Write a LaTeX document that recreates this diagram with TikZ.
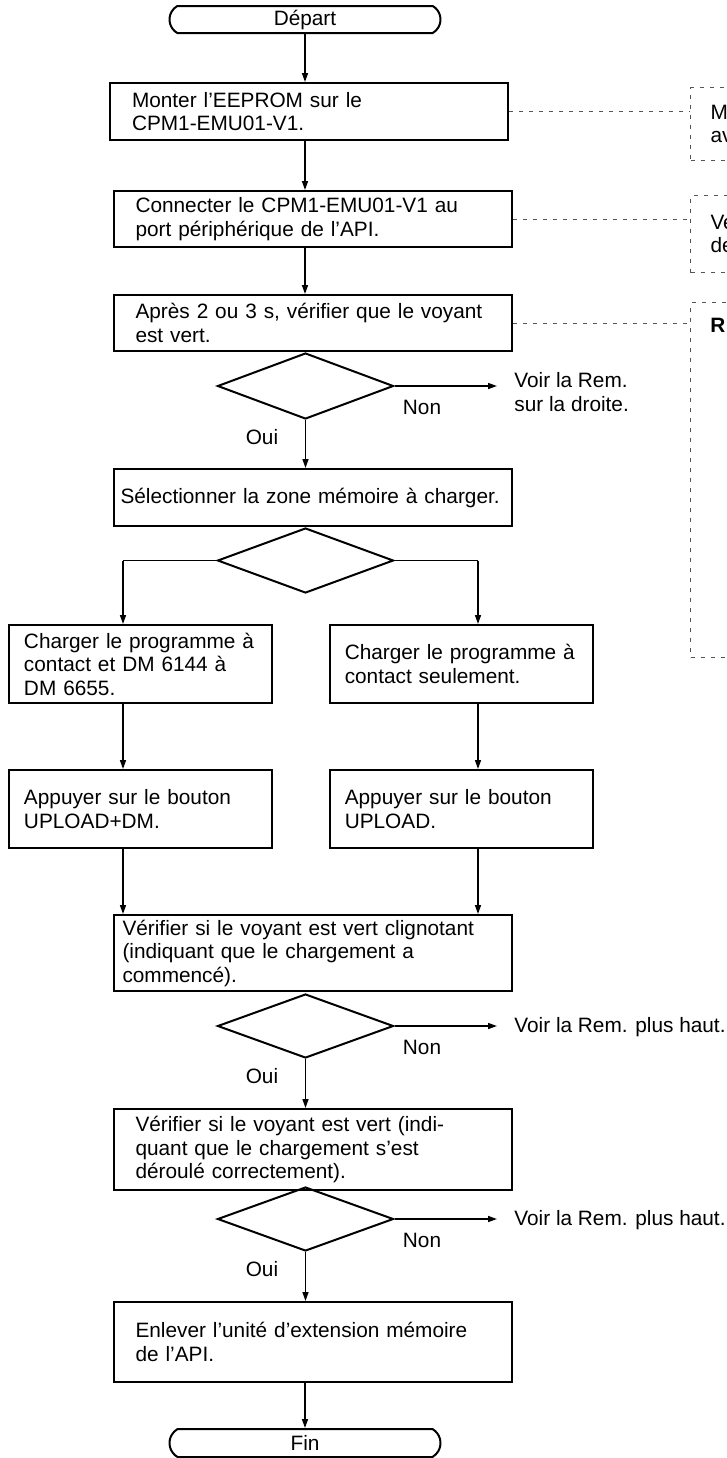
\documentclass[tikz,border=0pt]{standalone}
\usepackage{fontspec}
\setmainfont{Liberation Sans}
\usepackage{tikz}
\usetikzlibrary{shapes.geometric, shapes.misc, arrows.meta, positioning, calc}
\definecolor{cDash}{RGB}{85,85,85}
\tikzset{
	endpoint/.style={rounded rectangle, rounded rectangle arc length=120, draw=black, line width=1pt, minimum width=135.5pt, minimum height=13.5pt, inner sep=0pt},
	stepbox/.style ={rectangle, draw=black, line width=1pt, align=left, inner xsep=11pt, inner ysep=0pt, text width=177pt},
	sidebox/.style ={stepbox, inner xsep=7.5pt, text width=116.5pt, minimum height=39pt},
	check/.style   ={diamond, draw=black, line width=1pt, minimum width=88pt, minimum height=32.5pt, inner sep=0pt},
	flow/.style    ={-{Triangle[length=4.5pt, width=3pt]}, line width=0.75pt},
	branch/.style  ={line width=0.5pt},
	% dashed remarks on the right
	remlink/.style ={draw=cDash, line width=0.5pt, dash pattern=on 2pt off 3pt},
	rembox/.style  ={rectangle, draw=cDash, line width=0.5pt, dash pattern=on 2pt off 3pt, anchor=north west, align=left, text width=40pt, inner xsep=10pt, inner ysep=0pt},
	lbl/.style     ={inner sep=0pt},
}

\begin{document}
\begin{tikzpicture}[x=0.5pt, y=-0.5pt, font=\fontsize{10.4pt}{11.75pt}\selectfont]
	\useasboundingbox (0,0) rectangle (727,1458);
	% main column
	\node[endpoint] (start) at (305,19.5) {Départ};
	\node[stepbox, minimum height=28.5pt] (mount) at (309,111.5) {Monter l’EEPROM sur le\\CPM1-EMU01-V1.};
	\node[stepbox, minimum height=28pt] (plug) at (312.5,219) {Connecter le CPM1-EMU01-V1 au\\port périphérique de l’API.};
	\node[stepbox, minimum height=28pt] (green) at (312.5,323) {Après 2 ou 3 s, vérifier que le voyant\\est vert.};
	\node[check, minimum height=33pt] (okA) at (305.5,386) {};
	\node[stepbox, minimum height=28.5pt, inner xsep=3.5pt, text width=192pt] (area) at (312.5,497.5) {Sélectionner la zone mémoire à charger.};
	\node[check] (which) at (305.5,560.5) {};
	\node[sidebox] (full) at (140.5,664) {Charger le programme à\\contact et DM 6144 à\\DM 6655.};
	\node[sidebox] (ladder) at (461.25,664) {Charger le programme à\\contact seulement.};
	\node[sidebox] (pushdm) at (140.5,809) {Appuyer sur le bouton\\UPLOAD+DM.};
	\node[sidebox] (push) at (461.25,809) {Appuyer sur le bouton\\UPLOAD.};
	\node[stepbox, minimum height=38pt, inner xsep=4.5pt, text width=190pt] (blink) at (312.5,953) {Vérifier si le voyant est vert clignotant\\(indiquant que le chargement a\\commencé).};
	\node[check, minimum height=32pt] (okB) at (305.5,1026) {};
	\node[stepbox, minimum height=40.5pt] (done) at (312.5,1149.5) {Vérifier si le voyant est vert (indi-\\quant que le chargement s’est\\déroulé correctement).};
	\node[check, minimum height=32pt] (okC) at (305.5,1219) {};
	\node[stepbox, minimum height=40pt] (remove) at (312.5,1342) {Enlever l’unité d’extension mémoire\\de l’API.};
	\node[endpoint, minimum height=14pt] (stop) at (305,1443) {Fin};
	% answers
	\node[lbl] (nonA) at (422,407) {Non};
	\node[lbl] (ouiA) at (262,437) {Oui};
	\node[lbl] (nonB) at (422,1047) {Non};
	\node[lbl] (ouiB) at (262,1076.5) {Oui};
	\node[lbl] (nonC) at (422,1240) {Non};
	\node[lbl] (ouiC) at (262,1269) {Oui};
	\coordinate (seeA) at (497,386);
	\coordinate (seeB) at (497,1026);
	\coordinate (seeC) at (497,1219);
	\node[lbl, anchor=west, align=left] (txtA) at (514,392) {Voir la Rem.\\sur la droite.};
	\node[lbl, anchor=west] (txtB) at (514,1027) {Voir la Rem. plus haut.};
	\node[lbl, anchor=west] (txtC) at (514,1220) {Voir la Rem. plus haut.};
	% remarks
	\node[rembox, minimum height=36.5pt] (noteA) at (690,87) {M\\av};
	\node[rembox, minimum height=38.5pt] (noteB) at (690,195) {Ve\\de};
	\node[rembox, minimum height=177.5pt] (noteC) at (690,302) {};
	\node[lbl, anchor=west] (noteCt) at (710,325) {\bfseries R};
	\coordinate (forkL) at (123,600);
	\coordinate (forkR) at (478,600);
	% connectors
	\draw[flow] (start.south) -- (start.south |- mount.north);
	\draw[flow] (start.south |- mount.south) -- (start.south |- plug.north);
	\draw[flow] (start.south |- plug.south) -- (start.south |- green.north);
	\draw[flow] (okA.south) -- (okA.south |- area.north);
	\draw[flow] (okA.east) -- (seeA);
	\draw[branch] (which.west) -- (which.west -| forkL);
	\draw[branch] (which.east) -- (which.east -| forkR);
	\draw[flow] (which.west -| forkL) -- (forkL |- full.north);
	\draw[flow] (which.east -| forkR) -- (forkR |- ladder.north);
	\draw[flow] (forkL |- full.south) -- (forkL |- pushdm.north);
	\draw[flow] (forkR |- ladder.south) -- (forkR |- push.north);
	\draw[flow] (forkL |- pushdm.south) -- (forkL |- blink.north);
	\draw[flow] (forkR |- push.south) -- (forkR |- blink.north);
	\draw[flow] (okB.south) -- (okB.south |- done.north);
	\draw[flow] (okB.east) -- (seeB);
	\draw[flow] (okC.south) -- (okC.south |- remove.north);
	\draw[flow] (okC.east) -- (seeC);
	\draw[flow] (stop.north |- remove.south) -- (stop.north);
	\draw[remlink] (mount.east) -- (mount.east -| noteA.west);
	\draw[remlink] (plug.east) -- (plug.east -| noteB.west);
	\draw[remlink] (green.east) -- (green.east -| noteC.west);
\end{tikzpicture}
\end{document}
